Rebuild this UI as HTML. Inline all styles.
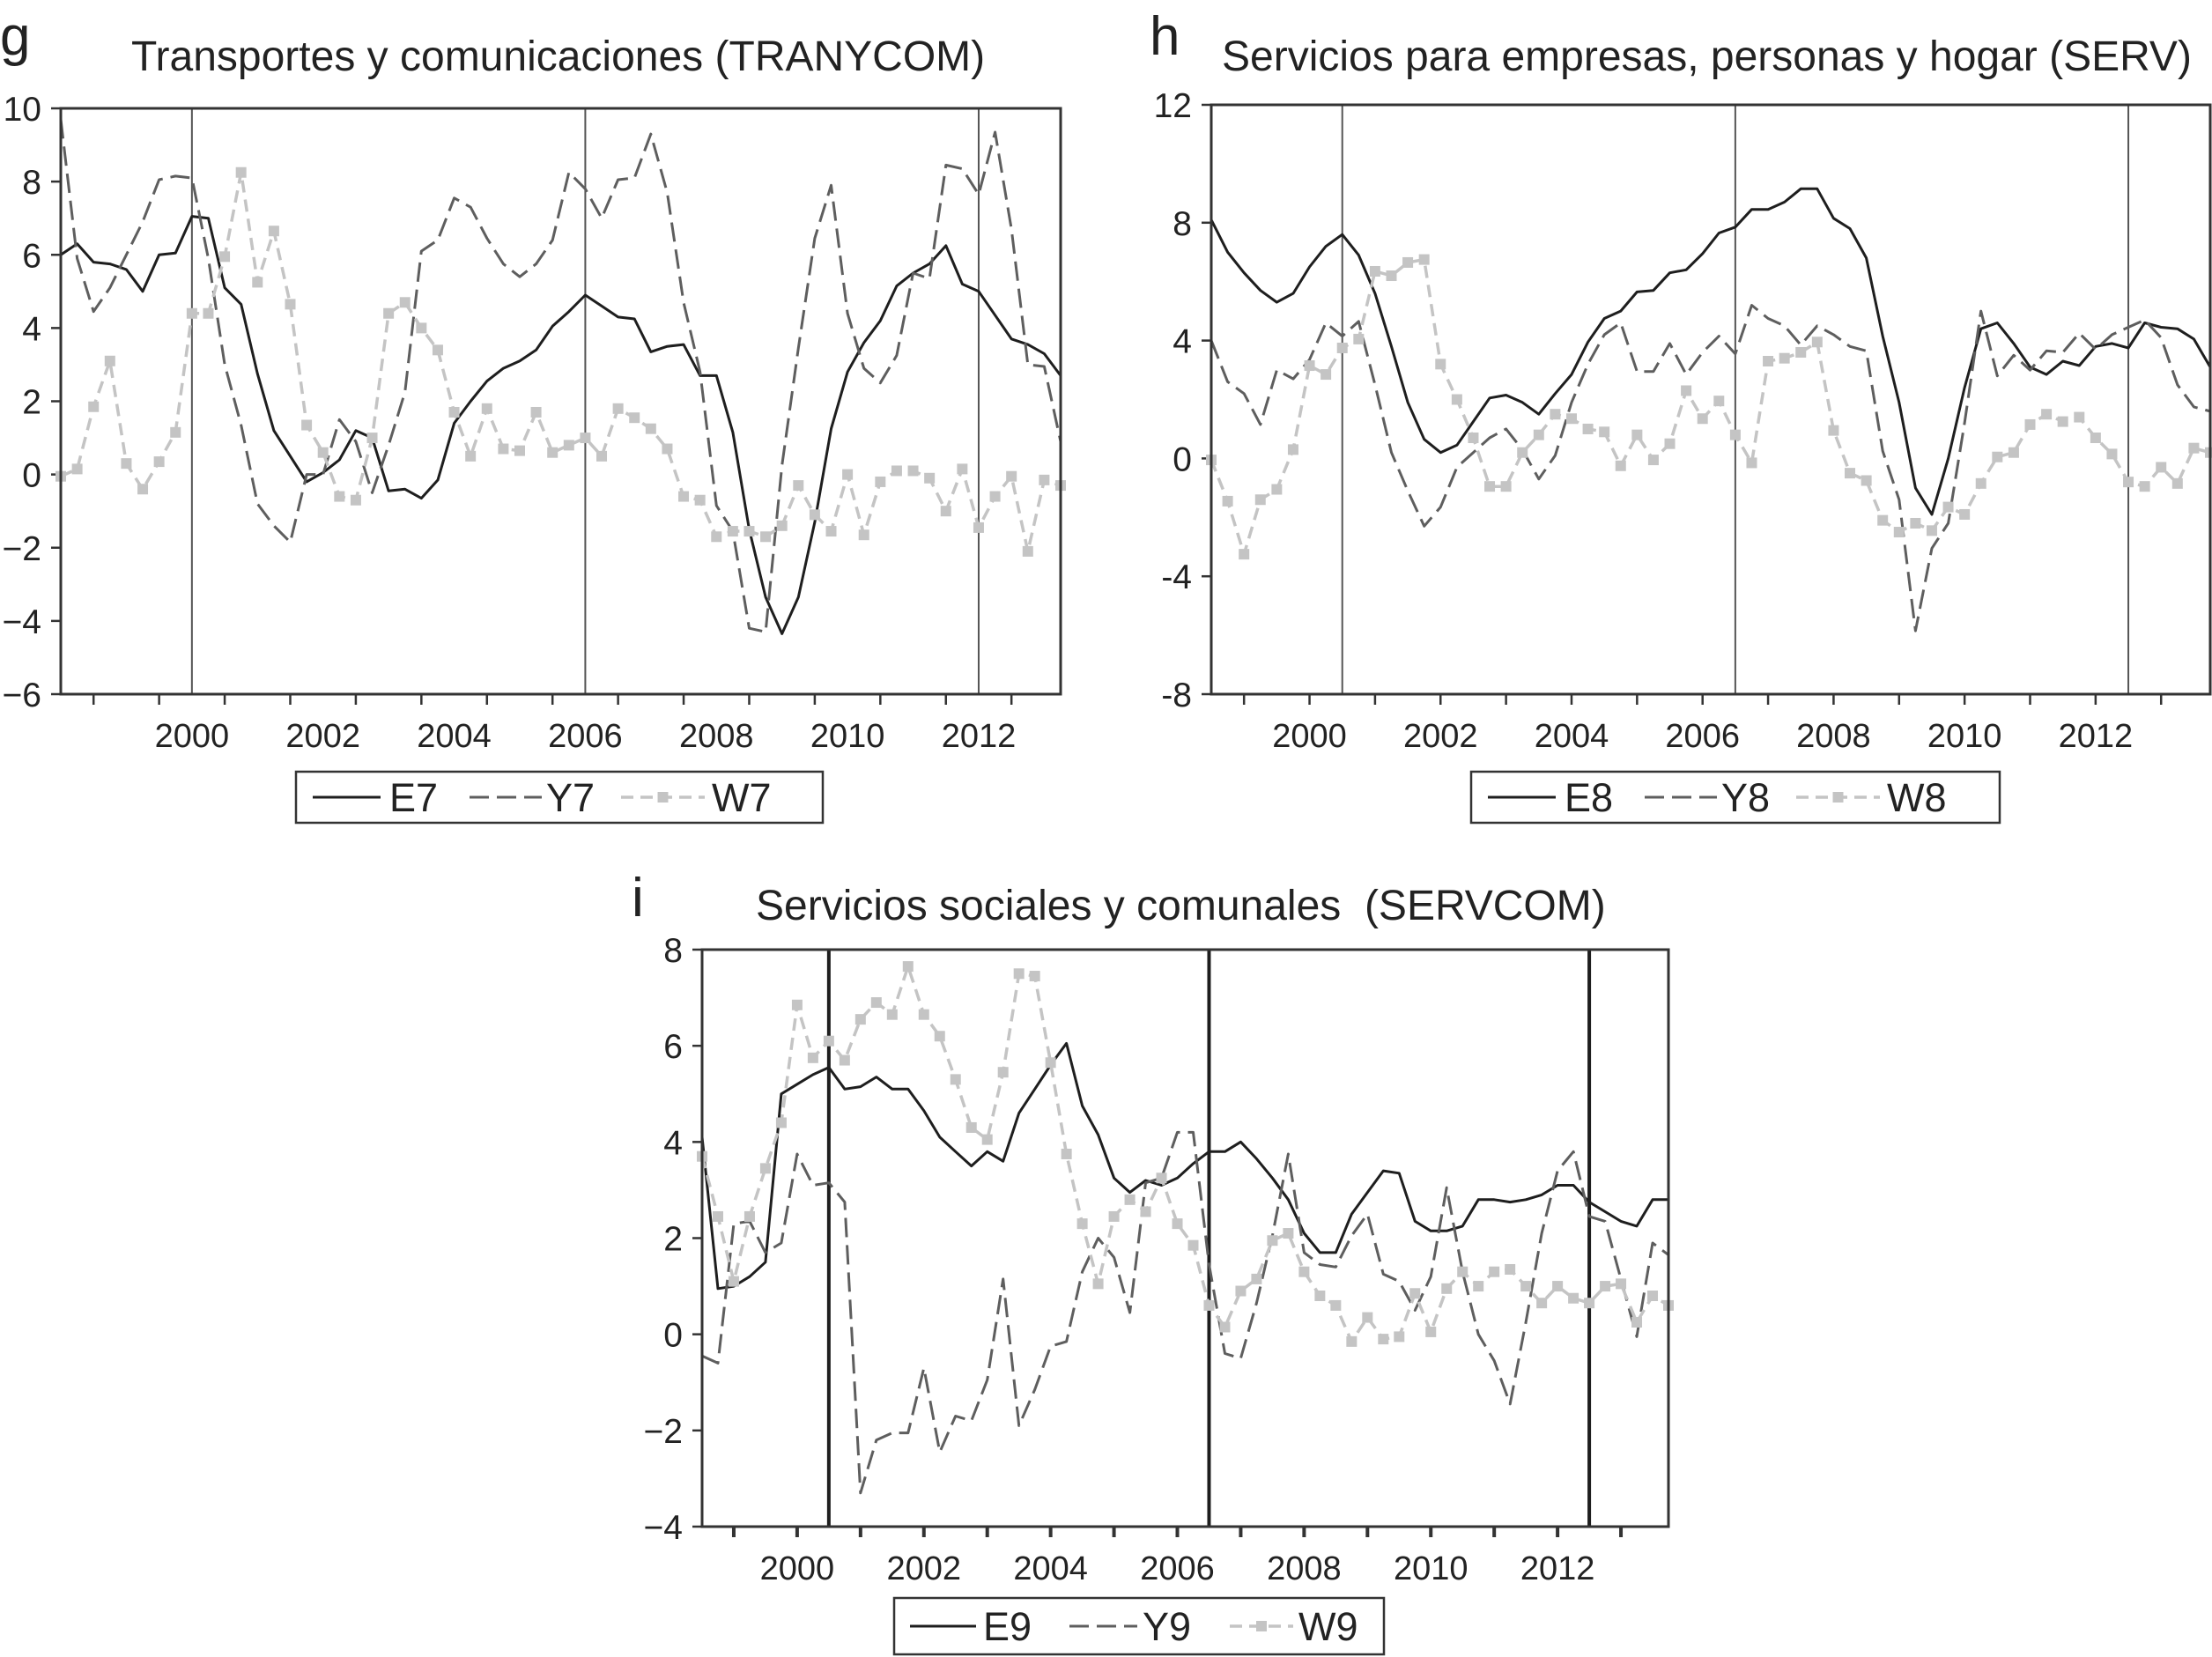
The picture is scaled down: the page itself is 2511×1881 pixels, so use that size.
<!DOCTYPE html>
<html><head><meta charset="utf-8"><style>
html,body{margin:0;padding:0;background:#fff;}
svg{display:block;font-family:"Liberation Sans",Arial,sans-serif;}
</style></head><body>
<svg id="fig" width="2511" height="1881" viewBox="0 0 2511 1881" xmlns="http://www.w3.org/2000/svg">
<rect x="0" y="0" width="2511" height="1881" fill="#fff"/>
<text x="0" y="62" font-size="62" fill="#222">g</text>
<text x="149" y="80" font-size="48" fill="#222">Transportes y comunicaciones (TRANYCOM)</text>
<text x="1305" y="62" font-size="62" fill="#222">h</text>
<text x="1387" y="80" font-size="48" fill="#222">Servicios para empresas, personas y hogar (SERV)</text>
<text x="717" y="1040" font-size="62" fill="#222">i</text>
<text x="858" y="1044" font-size="48" fill="#222" xml:space="preserve">Servicios sociales y comunales  (SERVCOM)</text>
</svg>
<script>
// ---------- data ----------
var years = ["2000","2002","2004","2006","2008","2010","2012"];
var ticksG = [-6,-4,-2,0,2,4,6,8,10];
var tickLabelsG = ["\u22126","\u22124","\u22122","0","2","4","6","8","10"];
var ticksH = [-8,-4,0,4,8,12];
var tickLabelsH = ["-8","-4","0","4","8","12"];
var ticksI = [-4,-2,0,2,4,6,8];
var tickLabelsI = ["\u22124","\u22122","0","2","4","6","8"];
var regimeBreaks = [8,32,56];

var E7 = [6.0,6.3,5.8,5.75,5.6,5.0,6.0,6.05,7.05,7.0,5.1,4.65,2.75,1.2,0.5,-0.2,0.05,0.4,1.2,1.0,-0.45,-0.4,-0.65,-0.15,1.4,2.0,2.55,2.9,3.1,3.4,4.05,4.45,4.9,4.6,4.3,4.25,3.35,3.5,3.55,2.7,2.7,1.15,-1.5,-3.35,-4.35,-3.35,-1.3,1.25,2.8,3.6,4.2,5.15,5.5,5.75,6.25,5.2,5.0,4.35,3.7,3.55,3.3,2.7];
var Y7 = [9.7,5.9,4.45,5.1,6.0,6.9,8.05,8.15,8.1,5.9,3.0,1.35,-0.8,-1.4,-1.85,0.0,0.0,1.5,0.9,-0.5,0.8,2.25,6.1,6.4,7.55,7.3,6.45,5.75,5.4,5.75,6.4,8.25,7.8,7.0,8.05,8.1,9.3,7.7,4.7,2.8,-0.85,-1.55,-4.2,-4.3,0.25,3.45,6.45,7.9,4.4,2.9,2.5,3.25,5.5,5.35,8.45,8.35,7.65,9.35,6.7,3.0,2.95,0.9];
var W7 = [-0.05,0.15,1.85,3.1,0.3,-0.4,0.35,1.15,4.4,4.4,5.95,8.25,5.25,6.65,4.65,1.35,0.6,-0.6,-0.7,1.0,4.4,4.7,4.0,3.4,1.7,0.5,1.8,0.7,0.65,1.7,0.6,0.8,1.0,0.5,1.8,1.55,1.25,0.7,-0.6,-0.7,-1.7,-1.55,-1.55,-1.7,-1.4,-0.3,-1.1,-1.55,0.0,-1.65,-0.2,0.1,0.1,-0.1,-1.0,0.15,-1.45,-0.6,-0.05,-2.1,-0.15,-0.3];

var E8 = [8.1,7.0,6.3,5.7,5.3,5.6,6.5,7.2,7.6,6.9,5.6,3.8,1.9,0.65,0.2,0.45,1.25,2.05,2.15,1.9,1.5,2.2,2.85,3.95,4.75,5.0,5.65,5.7,6.3,6.4,6.95,7.65,7.85,8.45,8.45,8.7,9.15,9.15,8.15,7.8,6.8,4.15,1.9,-1.0,-1.9,0.0,2.4,4.4,4.6,3.9,3.1,2.85,3.3,3.15,3.8,3.9,3.75,4.6,4.45,4.4,4.05,3.1];
var Y8 = [4.0,2.6,2.2,1.15,3.0,2.7,3.35,4.6,4.15,4.65,2.5,0.2,-1.1,-2.3,-1.65,-0.3,0.2,0.7,1.0,0.3,-0.7,0.1,1.9,3.2,4.2,4.6,2.95,2.95,3.9,2.85,3.6,4.15,3.55,5.2,4.75,4.5,3.85,4.5,4.2,3.8,3.65,0.25,-1.4,-5.85,-3.05,-2.2,1.2,5.0,2.8,3.5,3.0,3.65,3.6,4.25,3.7,4.2,4.45,4.7,4.1,2.5,1.75,1.6];
var W8 = [-0.05,-1.45,-3.25,-1.4,-1.05,0.3,3.15,2.85,3.75,4.05,6.35,6.2,6.65,6.75,3.2,2.0,0.7,-0.95,-0.95,0.2,0.8,1.5,1.35,1.0,0.9,-0.25,0.8,-0.05,0.5,2.3,1.35,1.95,0.8,-0.15,3.3,3.4,3.6,3.95,0.95,-0.5,-0.75,-2.1,-2.5,-2.2,-2.45,-1.65,-1.9,-0.85,0.05,0.2,1.15,1.5,1.25,1.4,0.7,0.15,-0.8,-0.95,-0.3,-0.85,0.35,0.2];

var E9 = [4.1,0.95,1.0,1.2,1.5,5.0,5.2,5.4,5.55,5.1,5.15,5.35,5.1,5.1,4.65,4.1,3.8,3.5,3.8,3.6,4.6,5.1,5.6,6.05,4.75,4.15,3.25,2.95,3.2,3.1,3.25,3.55,3.8,3.8,4.0,3.65,3.25,2.8,2.1,1.7,1.7,2.5,2.95,3.4,3.35,2.35,2.15,2.15,2.25,2.8,2.8,2.75,2.8,2.9,3.1,3.1,2.75,2.55,2.35,2.25,2.8,2.8];
var Y9 = [-0.45,-0.6,2.3,2.35,1.7,1.9,3.75,3.1,3.15,2.75,-3.3,-2.2,-2.05,-2.05,-0.7,-2.45,-1.7,-1.8,-0.95,1.15,-1.9,-1.15,-0.25,-0.15,1.3,2.0,1.6,0.45,3.15,3.25,4.2,4.2,1.45,-0.4,-0.5,0.65,2.05,3.75,1.7,1.45,1.4,2.05,2.5,1.25,1.1,0.5,1.2,3.05,1.3,0.0,-0.55,-1.45,0.25,2.1,3.4,3.8,2.45,2.35,1.15,-0.05,1.9,1.65];
var W9 = [3.7,2.45,1.1,2.45,3.45,4.4,6.85,5.75,6.1,5.7,6.55,6.9,6.65,7.65,6.65,6.2,5.3,4.3,4.05,5.45,7.5,7.45,5.65,3.75,2.3,1.05,2.45,2.8,2.55,3.25,2.3,1.85,0.6,0.15,0.9,1.15,1.95,2.1,1.3,0.8,0.6,-0.15,0.35,-0.1,-0.05,0.85,0.05,0.95,1.3,1.0,1.3,1.35,1.0,0.65,1.0,0.75,0.65,1.0,1.05,0.25,0.8,0.6];

// ---------- drawing ----------
var NS = "http://www.w3.org/2000/svg";
var svg = document.getElementById("fig");
function mk(tag, attrs, parent){
  var e = document.createElementNS(NS, tag);
  for (var k in attrs) e.setAttribute(k, attrs[k]);
  (parent || svg).appendChild(e);
  return e;
}
function panel(cfg){
  var g = mk("g", {});
  
  
  var n = cfg.series[0].data.length;
  function xs(i){ return cfg.x0 + (cfg.x1 - cfg.x0) * i / (n - 1); }
  function ys(v){ return cfg.y1 - (cfg.y1 - cfg.y0) * (v - cfg.vmin) / (cfg.vmax - cfg.vmin); }
  regimeBreaks.forEach(function(b){
    var l = mk("line", {x1: xs(b), x2: xs(b), y1: cfg.y0, y2: cfg.y1, stroke: cfg.vcol, "stroke-width": cfg.vw}, g);
    
    
  });
  cfg.ticks.forEach(function(t, k){
    var yy = ys(t);
    mk("line", {x1: cfg.x0 - 11, x2: cfg.x0, y1: yy, y2: yy, stroke: "#333", "stroke-width": 2.5}, g);
    var tx = mk("text", {x: cfg.x0 - 22, y: yy + 14, "text-anchor": "end", "font-size": 39, fill: "#222"}, g);
    tx.textContent = cfg.tickLabels[k];
    
    
  });
  for (var q = 2; q < n; q += 4) {
    mk("line", {x1: xs(q), x2: xs(q), y1: cfg.y1, y2: cfg.y1 + 12, stroke: "#333", "stroke-width": cfg.xtw}, g);
  }
  years.forEach(function(yl, k){
    var tx = mk("text", {x: xs(cfg.labelStart + 8 * k), y: cfg.y1 + 60, "text-anchor": "middle", "font-size": 38, fill: "#222"}, g);
    tx.textContent = yl;
    
    
  });
  cfg.series.forEach(function(s){
    var pts = s.data.map(function(v, i){ return xs(i).toFixed(1) + "," + ys(v).toFixed(1); }).join(" ");
    var sg = mk("g", {}, g);
    
    
    var pl = mk("polyline", {points: pts, fill: "none", stroke: s.col, "stroke-width": s.w, "stroke-dasharray": s.dash || "none", "stroke-linejoin": "round"}, sg);
    
    
    if (s.marker) {
      s.data.forEach(function(v, i){
        var r = mk("rect", {x: xs(i) - 6, y: ys(v) - 6, width: 12, height: 12, fill: s.col}, sg);
        
        
      });
    }
  });
  var fr = mk("rect", {x: cfg.x0, y: cfg.y0, width: cfg.x1 - cfg.x0, height: cfg.y1 - cfg.y0, fill: "none", stroke: "#333", "stroke-width": 3}, g);
  
  
  var L = cfg.legend;
  var lg = mk("g", {}, g);
  
  
  mk("rect", {x: L.x, y: L.y, width: L.w, height: L.h, fill: "#fff", stroke: "#333", "stroke-width": 2.5}, lg);
  cfg.series.forEach(function(s, k){
    var e = L.items[k];
    var ey = L.y + L.h / 2;
    var eg = mk("g", {}, lg);
    
    
    mk("line", {x1: e[0], x2: e[1], y1: ey, y2: ey, stroke: s.col, "stroke-width": s.w, "stroke-dasharray": s.dash || "none"}, eg);
    if (s.marker) mk("rect", {x: (e[0] + e[1]) / 2 - 6, y: ey - 6, width: 12, height: 12, fill: s.col}, eg);
    var t = mk("text", {x: e[2], y: ey + 16, "font-size": 45, fill: "#222"}, eg);
    t.textContent = s.name;
  });
}

function seriesSet(E, Y, W, k){
  return [
    {name: "E" + k, data: E, col: "#1e1e1e", w: 3},
    {name: "Y" + k, data: Y, col: "#5e5e5e", w: 3, dash: "22 9"},
    {name: "W" + k, data: W, col: "#c4c4c4", w: 3.5, dash: "14 8", marker: true}
  ];
}

panel({id: "g", x0: 69, x1: 1204, y0: 123, y1: 788, vmin: -6, vmax: 10, labelStart: 8,
  ticks: ticksG, tickLabels: tickLabelsG, vcol: "#555", vw: 2, xtw: 2.5,
  series: seriesSet(E7, Y7, W7, 7),
  legend: {x: 336, y: 876, w: 598, h: 58, items: [[355,432,442],[533,615,620],[705,800,808]]}});
panel({id: "h", x0: 1375, x1: 2509, y0: 119, y1: 788, vmin: -8, vmax: 12, labelStart: 6,
  ticks: ticksH, tickLabels: tickLabelsH, vcol: "#555", vw: 2, xtw: 2.5,
  series: seriesSet(E8, Y8, W8, 8),
  legend: {x: 1670, y: 876, w: 600, h: 58, items: [[1689,1766,1776],[1867,1949,1954],[2039,2134,2142]]}});
panel({id: "i", x0: 797, x1: 1894, y0: 1078, y1: 1733, vmin: -4, vmax: 8, labelStart: 6,
  ticks: ticksI, tickLabels: tickLabelsI, vcol: "#1e1e1e", vw: 4, xtw: 4,
  series: seriesSet(E9, Y9, W9, 9),
  legend: {x: 1015, y: 1814, w: 556, h: 64, items: [[1033,1108,1116],[1214,1291,1297],[1396,1468,1474]]}});
</script>
</body></html>
